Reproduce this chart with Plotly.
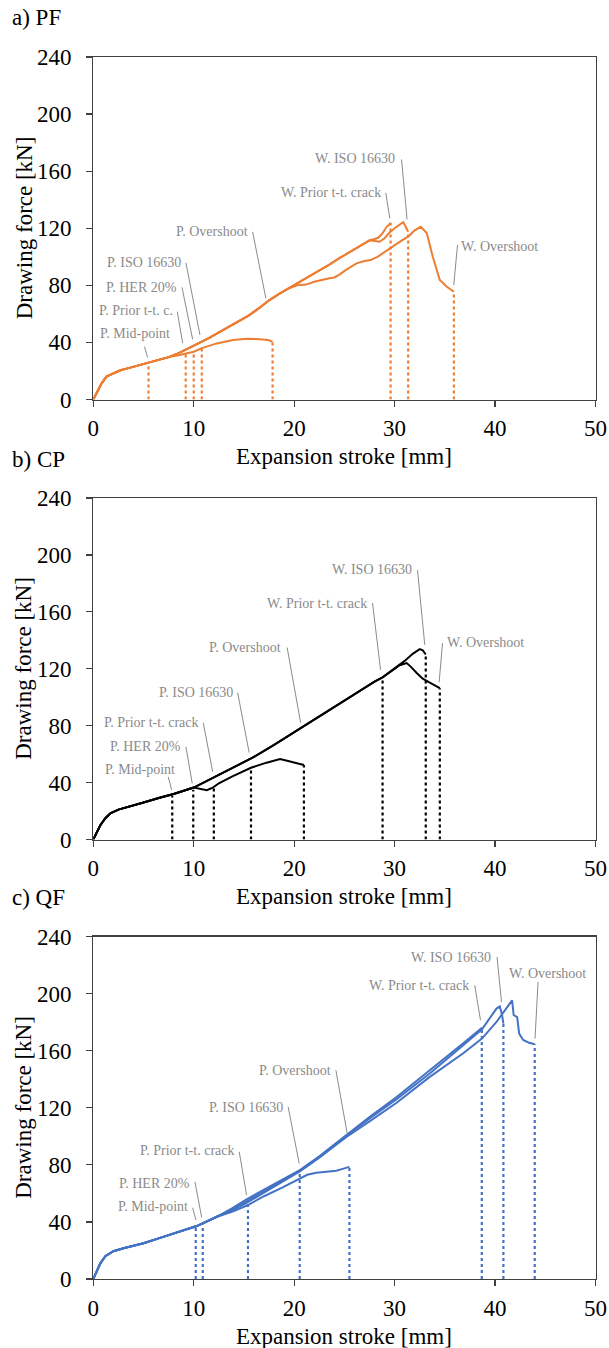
import plotly.graph_objects as go

# ---------------- DATA ----------------
x_ticks = [0, 10, 20, 30, 40, 50]
y_ticks = [0, 40, 80, 120, 160, 200, 240]

# a) PF
pf_base_x = [0, 0.3, 0.8, 1.3, 2.0, 2.7, 3.5, 4.5, 5.5, 6.5, 7.5]
pf_base_y = [0, 4, 11, 16, 18.5, 20.5, 22, 24, 25.5, 27.5, 29.7]
pf_mid_x = [8.5, 9.2, 9.5, 10.5, 11.5, 12.5, 13.5, 14.5, 15.5, 16.5, 17.5, 18.5, 19.5]
pf_mid_y = [32.5, 35, 36.5, 39.5, 43, 47, 51, 55, 59, 64, 69.5, 74, 78]
pf_up_x = [20.5, 21.5, 22.5, 23.5, 24.5, 25.5, 26.5, 27.5]
pf_up_y = [82, 86, 90.5, 94.5, 99, 103, 107.5, 111.5]
pf_prior_x = [28.0, 28.4, 28.8, 29.2, 29.45, 29.6]
pf_prior_y = [112.5, 113.5, 116.5, 121, 122.5, 123.8]
pf_iso_x = [28.0, 28.5, 29.0, 29.5, 30.0, 30.5, 30.85, 31.1, 31.35]
pf_iso_y = [111, 110.5, 113, 117, 120, 122.5, 124.3, 121, 117.5]
pf_wover_x = [20.3, 21.2, 22.0, 22.6, 23.5, 24.0, 24.5, 25.2, 26.2, 27.0, 27.6, 28.3, 29.5, 30.5,
              31.4, 32.0, 32.6, 33.2, 33.8, 34.5, 35.2, 35.9]
pf_wover_y = [80, 80.5, 82.5, 83.7, 85, 85.5, 87.5, 91, 95.4, 97, 97.7, 100, 106, 110.5,
              114.5, 118.5, 121, 116.7, 100, 83.7, 79, 75.5]
pf_pover_x = [8.5, 9.2, 10.0, 10.8, 11.5, 12.3, 13.9, 15.3, 16.6, 17.4, 17.85]
pf_pover_y = [31, 32, 33.5, 36, 37.5, 39.3, 41.7, 42.6, 42.2, 41.7, 40.5]
pf_mark_x = [5.5, 9.2, 10.0, 10.8, 17.85, 29.6, 31.35, 35.9]
pf_mark_y = [25.3, 32, 33.5, 36, 40.5, 123.8, 117.5, 75.5]

# b) CP
cp_base_x = [0, 0.3, 0.7, 1.2, 1.7, 2.5, 3.3, 5.0, 6.6, 8.0, 10.0]
cp_base_y = [0, 4, 10, 15, 18.3, 21, 22.5, 26, 29.3, 32, 36.5]
cp_up_x = [11, 12, 14, 16, 18, 20, 22, 24, 26, 28, 28.8, 30]
cp_up_y = [40, 44, 50.5, 58, 66.5, 75.5, 84.5, 93.5, 102.5, 111, 114, 120]
cp_iso_x = [31.0, 31.8, 32.5, 32.8, 33.1]
cp_iso_y = [125.5, 130.5, 133.8, 133, 130]
cp_wover_x = [30.5, 31.2, 31.6, 32.2, 32.8, 33.5, 34.0, 34.5]
cp_wover_y = [122.5, 124, 121.5, 117, 113, 110.3, 108, 106.3]
cp_pover_x = [10.5, 11.3, 11.9, 12.5, 13.9, 15.7, 17.25, 18.6, 19.6, 20.2, 20.97]
cp_pover_y = [35.8, 34.7, 36.5, 39.5, 44.6, 50.4, 54, 56.5, 54.8, 53.5, 52.3]
cp_mark_x = [7.86, 9.95, 12.0, 15.7, 20.97, 28.8, 33.1, 34.5]
cp_mark_y = [30.5, 35, 36.5, 50.4, 52.3, 113, 130, 106.3]

# c) QF
qf_base_x = [0, 0.3, 0.7, 1.2, 2.0, 3.0, 5.0, 6.5, 8.3, 10.3, 12.3]
qf_base_y = [0, 5, 11, 16, 19.5, 21.5, 25, 28.5, 32.7, 37.1, 43.6]
qf_prior_x = [13.8, 15.3, 17.0, 18.8, 20.6, 22.5, 25.2, 27.5, 30.2, 33.5, 36.8, 38.7]
qf_prior_y = [49.5, 56, 62.5, 69.5, 76.5, 86, 101, 113.5, 127.5, 146, 165, 176]
qf_iso_x = [13.8, 15.3, 17.0, 18.8, 20.6, 22.5, 25.2, 27.5, 30.2, 33.5, 36.8, 38.7, 40.14, 40.47, 40.7, 40.83]
qf_iso_y = [48.5, 54.5, 61.5, 69, 76, 85.5, 100.5, 112.5, 126, 144, 163.5, 175, 189.5, 191, 185, 179]
qf_wover_x = [13.8, 15.3, 17.0, 18.8, 20.6, 22.5, 25.2, 27.5, 30.2, 33.5, 36.8, 38.7, 40.14, 41.7,
              41.85, 42.2, 42.4, 42.8, 43.4, 43.95]
qf_wover_y = [48, 53.5, 60.5, 68, 75.5, 85, 99.5, 110.5, 123.5, 141.6, 158, 168.5, 180.1, 195.3,
              185, 183.5, 172, 167.5, 165.5, 164.5]
qf_pover_x = [13.8, 15.3, 17.0, 18.8, 20.6, 21.3, 22.2, 23.2, 24.2, 25.0, 25.5]
qf_pover_y = [47, 51.5, 58, 64, 70.5, 73, 74.4, 75, 75.8, 77.5, 78.6]
qf_mark_x = [10.2, 10.9, 15.4, 20.55, 25.5, 38.68, 40.83, 43.95]
qf_mark_y = [36, 38, 55.3, 75, 78.6, 176.2, 179, 164.5]

# ---------------- BUILD ----------------
W, H = 609, 1348
SERIF = "'Liberation Serif', 'Times New Roman', Times, 'DejaVu Serif', serif"
GREY = "#8a8a8a"
AX = "#404040"


def px_x(px):  # page pixel -> paper fraction
    return px / W


def px_y(py):
    return 1 - py / H


panels = [
    dict(title="a) PF", color="#ED7D31",
         curves=[
             (pf_base_x + pf_mid_x + pf_up_x + pf_prior_x, pf_base_y + pf_mid_y + pf_up_y + pf_prior_y),
             (pf_base_x + pf_mid_x + pf_up_x + pf_iso_x, pf_base_y + pf_mid_y + pf_up_y + pf_iso_y),
             (pf_base_x + pf_mid_x + pf_wover_x, pf_base_y + pf_mid_y + pf_wover_y),
             (pf_base_x + pf_pover_x, pf_base_y + pf_pover_y),
         ],
         marks=(pf_mark_x, pf_mark_y),
         top=57, bottom=399.5,
         labels=[
             ("P. Mid-point", 7.8, 46.4, "right", (5.1, 37), (5.4, 29.5)),
             ("P. Prior t-t. c.", 8.13, 62.5, "right", (8.36, 61.5), (8.9, 39.4)),
             ("P. HER 20%", 8.56, 78.6, "right", (8.83, 78.6), (9.89, 42.2)),
             ("P. ISO 16630", 8.96, 95.8, "right", (9.22, 95.8), (10.62, 45.2)),
             ("P. Overshoot", 15.6, 117.5, "right", (15.86, 117.5), (17.18, 70.9)),
             ("W. ISO 16630", 30.19, 168.9, "right", (30.69, 168.2), (31.24, 126.2)),
             ("W. Prior t-t. crack", 28.86, 144.8, "right", (29.12, 144.8), (29.52, 126.9)),
             ("W. Overshoot", 36.42, 107.5, "left", (36.26, 108.2), (35.89, 80.2)),
         ]),
    dict(title="b) CP", color="#000000",
         curves=[
             (cp_base_x + cp_up_x + cp_iso_x, cp_base_y + cp_up_y + cp_iso_y),
             (cp_base_x + cp_up_x + cp_wover_x, cp_base_y + cp_up_y + cp_wover_y),
             (cp_base_x + cp_pover_x, cp_base_y + cp_pover_y),
         ],
         marks=(cp_mark_x, cp_mark_y),
         top=498, bottom=839.5,
         labels=[
             ("P. Mid-point", 8.3, 49.3, "right", (7.46, 44.1), (7.8, 34.9)),
             ("P. HER 20%", 8.9, 65.2, "right", (9.22, 65.2), (9.85, 39.4)),
             ("P. Prior t-t. crack", 10.62, 82.1, "right", (10.95, 82.1), (11.88, 47.6)),
             ("P. ISO 16630", 14.1, 103.2, "right", (14.37, 103.2), (15.52, 61)),
             ("P. Overshoot", 18.9, 134.9, "right", (19.3, 134.9), (20.64, 82.1)),
             ("W. ISO 16630", 31.91, 189.6, "right", (32.28, 189.3), (33.0, 136.8)),
             ("W. Prior t-t. crack", 27.46, 166.2, "right", (27.8, 166.2), (28.6, 119.2)),
             ("W. Overshoot", 35.0, 138.7, "left", (34.77, 138), (34.43, 110.4)),
         ]),
    dict(title="c) QF", color="#4472C4",
         curves=[
             (qf_base_x + qf_prior_x, qf_base_y + qf_prior_y),
             (qf_base_x + qf_iso_x, qf_base_y + qf_iso_y),
             (qf_base_x + qf_wover_x, qf_base_y + qf_wover_y),
             (qf_base_x + qf_pover_x, qf_base_y + qf_pover_y),
         ],
         marks=(qf_mark_x, qf_mark_y),
         top=936.5, bottom=1279,
         labels=[
             ("P. Mid-point", 9.62, 50.6, "right", (9.89, 49.9), (10.22, 41.3)),
             ("P. HER 20%", 9.79, 67, "right", (10.12, 68.1), (10.79, 43.2)),
             ("P. Prior t-t. crack", 14.2, 89.8, "right", (14.53, 89.1), (15.26, 58.8)),
             ("P. ISO 16630", 19.07, 119.9, "right", (19.4, 120.6), (20.5, 81)),
             ("P. Overshoot", 23.82, 145.8, "right", (24.15, 146.3), (25.27, 102.4)),
             ("W. ISO 16630", 39.8, 225.6, "right", (40.2, 225.6), (40.64, 194.1)),
             ("W. Prior t-t. crack", 37.65, 205.8, "right", (37.98, 205.8), (38.55, 181.3)),
             ("W. Overshoot", 41.19, 214.4, "left", (44.28, 208.1), (43.98, 168.5)),
         ]),
]

fig = go.Figure()
annotations = []
shapes = []
left_px, right_px = 93.3, 595.5
layout_axes = {}

for i, p in enumerate(panels):
    sfx = "" if i == 0 else str(i + 1)
    xa, ya = "x" + sfx, "y" + sfx
    col = p["color"]
    for cx, cy in p["curves"]:
        fig.add_trace(go.Scatter(x=cx, y=cy, mode="lines", line=dict(color=col, width=2),
                                 xaxis=xa, yaxis=ya, showlegend=False, hoverinfo="skip"))
    mx, my = p["marks"]
    dx, dy = [], []
    for a, b in zip(mx, my):
        dx += [a, a, None]
        dy += [0, b, None]
    fig.add_trace(go.Scatter(x=dx, y=dy, mode="lines", line=dict(color=col, width=2.2, dash="dot"),
                             xaxis=xa, yaxis=ya, showlegend=False, hoverinfo="skip"))

    ydom = [px_y(p["bottom"]), px_y(p["top"])]
    common = dict(showline=True, linecolor=AX, linewidth=1.3, mirror=True, ticks="outside",
                  ticklen=6, tickwidth=1.3, tickcolor=AX, showgrid=False, zeroline=False,
                  automargin=False,
                  tickfont=dict(family=SERIF, size=23, color="black"))
    layout_axes["xaxis" + sfx] = dict(common, domain=[px_x(left_px), px_x(right_px)], range=[0, 50],
                                      tickvals=x_ticks, anchor=ya, ticklabelstandoff=2)
    layout_axes["yaxis" + sfx] = dict(common, domain=ydom, range=[0, 240], tickvals=y_ticks,
                                      anchor=xa, ticklabelstandoff=10)

    # panel label
    annotations.append(dict(text=p["title"], xref="paper", yref="paper", x=px_x(10),
                            y=px_y(p["top"] - 39), xanchor="left", yanchor="middle",
                            showarrow=False, font=dict(family=SERIF, size=23, color="black")))
    # axis titles
    annotations.append(dict(text="Expansion stroke [mm]", xref="paper", yref="paper",
                            x=px_x((left_px + right_px) / 2), y=px_y(p["bottom"] + 57),
                            xanchor="center", yanchor="middle", showarrow=False,
                            font=dict(family=SERIF, size=23, color="black")))
    annotations.append(dict(text="Drawing force [kN]", xref="paper", yref="paper",
                            x=px_x(24), y=px_y((p["top"] + p["bottom"]) / 2), textangle=-90,
                            xanchor="center", yanchor="middle", showarrow=False,
                            font=dict(family=SERIF, size=23, color="black")))
    # callouts
    for text, tx, ty, anc, (sx, sy), (ex, ey) in p["labels"]:
        annotations.append(dict(text=text, xref=xa, yref=ya, x=tx, y=ty, xanchor=anc,
                                yanchor="middle", showarrow=False,
                                font=dict(family=SERIF, size=14, color=GREY)))
        shapes.append(dict(type="line", xref=xa, yref=ya, x0=sx, y0=sy, x1=ex, y1=ey,
                           line=dict(color=GREY, width=1)))

fig.update_layout(width=W, height=H, margin=dict(l=0, r=0, t=0, b=0, autoexpand=False),
                  paper_bgcolor="white", plot_bgcolor="white",
                  annotations=annotations, shapes=shapes, **layout_axes)

fig.write_html("out.html", config={"displayModeBar": False, "staticPlot": True},
               post_script="document.body.style.margin='0px';document.body.style.overflow='hidden';")
